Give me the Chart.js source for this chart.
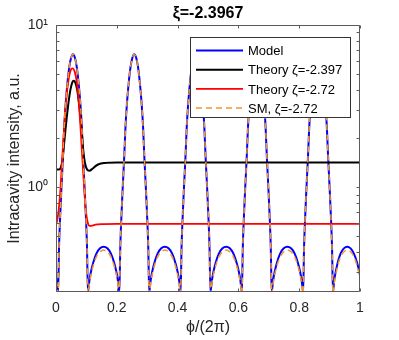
<!DOCTYPE html>
<html><head><meta charset="utf-8">
<script src="https://cdn.jsdelivr.net/npm/chart.js@4.4.0/dist/chart.umd.min.js"></script>
<style>html,body{margin:0;padding:0;background:#fff;}#wrap{width:399px;height:340px;position:relative;}</style>
</head><body><div id="wrap"><canvas id="c" width="399" height="340"></canvas></div>
<script>
const FONT = '"Liberation Sans", Arial, Helvetica, sans-serif';

const xTickValues = [0, 0.2, 0.4, 0.6, 0.8, 1];
const xTickLabels = ['0', '0.2', '0.4', '0.6', '0.8', '1'];
const yMajorTicks = [1, 10];
const yTickLabels = ['10\u2070', '10\u00B9'];
const yMinorTicks = [0.3, 0.4, 0.5, 0.6, 0.7, 0.8, 0.9, 2, 3, 4, 5, 6, 7, 8, 9];

const seriesLabels = ['Model', 'Theory \u03B6=-2.397', 'Theory \u03B6=-2.72', 'SM, \u03B6=-2.72'];

const modelPhi = [
  0, 0.003, 0.007,
  0.010, 0.013, 0.018, 0.023, 0.027, 0.032, 0.038, 0.044, 0.050, 0.056, 0.062, 0.068, 0.074, 0.080, 0.085, 0.089, 0.094, 0.099, 0.102, 0.105,
  0.1098, 0.1148, 0.1228, 0.1328, 0.1448, 0.1568, 0.1688, 0.1808, 0.1908, 0.1988, 0.2038, 0.2085,
  0.2115, 0.2145, 0.2195, 0.2245, 0.2285, 0.2335, 0.2395, 0.2455, 0.2515, 0.2575, 0.2635, 0.2695, 0.2755, 0.2815, 0.2865, 0.2905, 0.2955, 0.3005, 0.3035, 0.3065,
  0.3112, 0.3162, 0.3242, 0.3342, 0.3462, 0.3582, 0.3702, 0.3822, 0.3922, 0.4002, 0.4052, 0.4100,
  0.413, 0.416, 0.421, 0.426, 0.430, 0.435, 0.441, 0.447, 0.453, 0.459, 0.465, 0.471, 0.477, 0.483, 0.488, 0.492, 0.497, 0.502, 0.505, 0.508,
  0.5127, 0.5177, 0.5257, 0.5357, 0.5477, 0.5597, 0.5717, 0.5837, 0.5937, 0.6017, 0.6067, 0.6115,
  0.6145, 0.6175, 0.6225, 0.6275, 0.6315, 0.6365, 0.6425, 0.6485, 0.6545, 0.6605, 0.6665, 0.6725, 0.6785, 0.6845, 0.6895, 0.6935, 0.6985, 0.7035, 0.7065, 0.7095,
  0.7142, 0.7192, 0.7272, 0.7372, 0.7492, 0.7612, 0.7732, 0.7852, 0.7952, 0.8032, 0.8082, 0.8130,
  0.816, 0.819, 0.824, 0.829, 0.833, 0.838, 0.844, 0.850, 0.856, 0.862, 0.868, 0.874, 0.880, 0.886, 0.891, 0.895, 0.900, 0.905, 0.908, 0.911,
  0.915, 0.920, 0.927, 0.936, 0.947, 0.958, 0.969, 0.980, 0.990, 1.0
];

const modelI = [
  0.28, 0.258, 0.226,
  0.427, 0.617, 1.0, 1.55, 2.34, 3.31, 4.47, 5.56, 6.3, 6.6, 6.3, 5.56, 4.47, 3.31, 2.34, 1.55, 1.0, 0.617, 0.427, 0.226,
  0.265, 0.30, 0.345, 0.39, 0.42, 0.43, 0.42, 0.39, 0.345, 0.30, 0.265, 0.226,
  0.427, 0.617, 1.0, 1.55, 2.34, 3.31, 4.47, 5.56, 6.3, 6.6, 6.3, 5.56, 4.47, 3.31, 2.34, 1.55, 1.0, 0.617, 0.427, 0.226,
  0.265, 0.30, 0.345, 0.39, 0.42, 0.43, 0.42, 0.39, 0.345, 0.30, 0.265, 0.226,
  0.427, 0.617, 1.0, 1.55, 2.34, 3.31, 4.47, 5.56, 6.3, 6.6, 6.3, 5.56, 4.47, 3.31, 2.34, 1.55, 1.0, 0.617, 0.427, 0.226,
  0.265, 0.30, 0.345, 0.39, 0.42, 0.43, 0.42, 0.39, 0.345, 0.30, 0.265, 0.226,
  0.427, 0.617, 1.0, 1.55, 2.34, 3.31, 4.47, 5.56, 6.3, 6.6, 6.3, 5.56, 4.47, 3.31, 2.34, 1.55, 1.0, 0.617, 0.427, 0.226,
  0.265, 0.30, 0.345, 0.39, 0.42, 0.43, 0.42, 0.39, 0.345, 0.30, 0.265, 0.226,
  0.427, 0.617, 1.0, 1.55, 2.34, 3.31, 4.47, 5.56, 6.3, 6.6, 6.3, 5.56, 4.47, 3.31, 2.34, 1.55, 1.0, 0.617, 0.427, 0.226,
  0.265, 0.30, 0.345, 0.39, 0.42, 0.43, 0.42, 0.39, 0.345, 0.29
];

const smI = [
  0.268, 0.247, 0.22,
  0.427, 0.617, 1.0, 1.55, 2.34, 3.31, 4.47, 5.56, 6.3, 6.6, 6.3, 5.56, 4.47, 3.31, 2.34, 1.55, 1.0, 0.617, 0.427, 0.22,
  0.255, 0.288, 0.33, 0.372, 0.40, 0.41, 0.40, 0.372, 0.33, 0.288, 0.255, 0.22,
  0.427, 0.617, 1.0, 1.55, 2.34, 3.31, 4.47, 5.56, 6.3, 6.6, 6.3, 5.56, 4.47, 3.31, 2.34, 1.55, 1.0, 0.617, 0.427, 0.22,
  0.255, 0.288, 0.33, 0.372, 0.40, 0.41, 0.40, 0.372, 0.33, 0.288, 0.255, 0.22,
  0.427, 0.617, 1.0, 1.55, 2.34, 3.31, 4.47, 5.56, 6.3, 6.6, 6.3, 5.56, 4.47, 3.31, 2.34, 1.55, 1.0, 0.617, 0.427, 0.22,
  0.255, 0.288, 0.33, 0.372, 0.40, 0.41, 0.40, 0.372, 0.33, 0.288, 0.255, 0.22,
  0.427, 0.617, 1.0, 1.55, 2.34, 3.31, 4.47, 5.56, 6.3, 6.6, 6.3, 5.56, 4.47, 3.31, 2.34, 1.55, 1.0, 0.617, 0.427, 0.22,
  0.255, 0.288, 0.33, 0.372, 0.40, 0.41, 0.40, 0.372, 0.33, 0.288, 0.255, 0.22,
  0.427, 0.617, 1.0, 1.55, 2.34, 3.31, 4.47, 5.56, 6.3, 6.6, 6.3, 5.56, 4.47, 3.31, 2.34, 1.55, 1.0, 0.617, 0.427, 0.22,
  0.255, 0.288, 0.33, 0.372, 0.40, 0.41, 0.40, 0.372, 0.33, 0.277
];

const theory1Phi = [0, 0.005, 0.01, 0.015, 0.02, 0.025, 0.03, 0.035, 0.04, 0.045, 0.05, 0.055, 0.059, 0.064, 0.07, 0.075, 0.08, 0.085, 0.09, 0.095, 0.1, 0.105, 0.11, 0.12, 0.13, 0.14, 0.16, 0.2, 0.4, 0.6, 0.8, 1];
const theory1I = [1.29, 1.285, 1.285, 1.31, 1.42, 1.72, 2.15, 2.66, 3.2, 3.75, 4.2, 4.48, 4.53, 4.4, 3.95, 3.35, 2.75, 2.15, 1.67, 1.42, 1.31, 1.27, 1.265, 1.3, 1.35, 1.385, 1.41, 1.42, 1.42, 1.42, 1.42, 1.42];

const theory2Phi = [0, 0.005, 0.01, 0.015, 0.02, 0.025, 0.03, 0.035, 0.04, 0.045, 0.05, 0.055, 0.06, 0.065, 0.07, 0.075, 0.08, 0.085, 0.09, 0.095, 0.1, 0.105, 0.11, 0.12, 0.13, 0.15, 0.2, 0.4, 0.6, 0.8, 1];
const theory2I = [0.586, 0.64, 0.76, 1.0, 1.45, 2.05, 2.85, 3.7, 4.45, 5.0, 5.35, 5.4, 5.25, 4.85, 4.2, 3.35, 2.45, 1.7, 1.2, 0.85, 0.67, 0.6, 0.578, 0.58, 0.588, 0.593, 0.595, 0.595, 0.595, 0.595, 0.595];

function pts(xs, ys) { return xs.map((x, i) => ({ x: x, y: ys[i] })); }

const frame = {
  id: 'frame',
  afterDatasetsDraw(chart) {
    const { ctx, chartArea: a, scales: { x, y } } = chart;
    const L = Math.round(a.left) + 0.5, R = Math.round(a.right) - 0.5;
    const T = Math.round(a.top) + 0.5, B = Math.round(a.bottom) - 0.5;
    ctx.save();
    ctx.strokeStyle = 'rgb(90,90,90)';
    ctx.lineWidth = 1;
    ctx.beginPath();
    ctx.rect(L, T, R - L, B - T);
    xTickValues.forEach(v => {
      const px = Math.round(x.getPixelForValue(v)) + 0.5;
      ctx.moveTo(px, B); ctx.lineTo(px, B - 3);
      ctx.moveTo(px, T); ctx.lineTo(px, T + 3);
    });
    yMajorTicks.concat(yMinorTicks).forEach(v => {
      const py = Math.round(y.getPixelForValue(v)) + 0.5;
      ctx.moveTo(L, py); ctx.lineTo(L + 3, py);
      ctx.moveTo(R, py); ctx.lineTo(R - 3, py);
    });
    ctx.stroke();
    ctx.restore();
  }
};

const boxLegend = {
  id: 'boxLegend',
  afterDraw(chart) {
    const ctx = chart.ctx;
    const L = 190, T = 37, W = 160, H = 80;
    const rows = [50.5, 69.7, 88.9, 108.1];
    ctx.save();
    ctx.fillStyle = '#fff';
    ctx.fillRect(L, T, W, H);
    ctx.strokeStyle = 'rgb(50,50,50)';
    ctx.lineWidth = 1;
    ctx.strokeRect(L + 0.5, T + 0.5, W, H);
    chart.data.datasets.forEach((ds, i) => {
      const yy = rows[i];
      ctx.beginPath();
      ctx.strokeStyle = ds.borderColor;
      ctx.lineWidth = ds.borderWidth;
      ctx.setLineDash(ds.borderDash || []);
      ctx.moveTo(196, yy); ctx.lineTo(243, yy);
      ctx.stroke();
      ctx.setLineDash([]);
      ctx.fillStyle = '#000';
      ctx.font = '13px ' + FONT;
      ctx.textBaseline = 'alphabetic';
      ctx.textAlign = 'left';
      ctx.fillText(ds.label, 248, yy + 4.7);
    });
    ctx.restore();
  }
};

new Chart(document.getElementById('c'), {
  type: 'line',
  data: {
    datasets: [
      { label: seriesLabels[0], data: pts(modelPhi, modelI), borderColor: '#0000ff', borderWidth: 2, order: 3 },
      { label: seriesLabels[1], data: pts(theory1Phi, theory1I), borderColor: '#000000', borderWidth: 2, order: 2 },
      { label: seriesLabels[2], data: pts(theory2Phi, theory2I), borderColor: '#ff0000', borderWidth: 1.8, order: 1 },
      { label: seriesLabels[3], data: pts(modelPhi, smI), borderColor: 'rgb(245,150,40)', borderWidth: 1.5, borderDash: [6, 4], order: 0 }
    ]
  },
  options: {
    responsive: false,
    animation: false,
    devicePixelRatio: 1,
    elements: { point: { radius: 0 }, line: { cubicInterpolationMode: 'monotone', fill: false } },
    layout: { padding: { left: 0, right: 39, top: 0, bottom: 0 } },
    plugins: {
      legend: { display: false },
      tooltip: { enabled: false },
      title: {
        display: true, text: '\u03BE=-2.3967', fullSize: false,
        font: { family: FONT, size: 16, weight: 'bold' }, color: '#000',
        padding: { top: 4, bottom: 1.8 }
      }
    },
    scales: {
      x: {
        type: 'linear', min: 0, max: 1,
        grid: { display: false, drawTicks: false }, border: { display: false },
        afterBuildTicks: s => { s.ticks = xTickValues.map(v => ({ value: v })); },
        afterFit: s => { s.height = 48; },
        ticks: { font: { family: FONT, size: 14 }, color: '#262626', padding: 8, maxRotation: 0, autoSkip: false,
                 callback: (v, i) => xTickLabels[i] },
        title: { display: true, text: '\u03D5/(2\u03C0)', font: { family: FONT, size: 16 }, color: '#262626',
                 padding: { top: 0, bottom: 2.4 } }
      },
      y: {
        type: 'logarithmic', min: 0.226, max: 10,
        grid: { display: false, drawTicks: false }, border: { display: false },
        afterBuildTicks: s => { s.ticks = yMajorTicks.map(v => ({ value: v })); },
        afterFit: s => { s.width = 56; },
        ticks: { font: { family: FONT, size: 14 }, color: '#262626', padding: 8, autoSkip: false,
                 callback: (v, i) => yTickLabels[i] },
        title: { display: true, text: 'Intracavity intensity, a.u.', font: { family: FONT, size: 16 }, color: '#262626',
                 padding: { top: 5.4, bottom: 0 } }
      }
    }
  },
  plugins: [frame, boxLegend]
});
</script>
</body></html>
